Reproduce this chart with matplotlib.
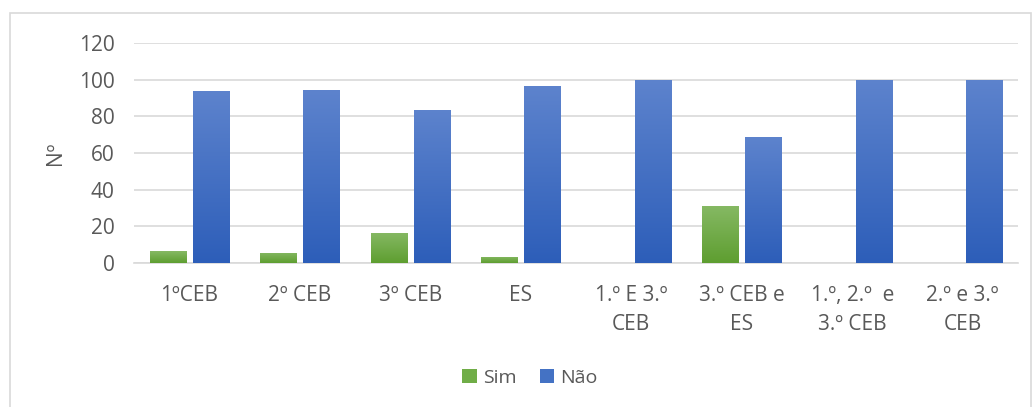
import numpy as np
import matplotlib.pyplot as plt
from matplotlib.colors import LinearSegmentedColormap
from matplotlib.patches import Rectangle

categories = ['1ºCEB', '2º CEB', '3º CEB', 'ES', '1.º E 3.º\nCEB',
              '3.º CEB e\nES', '1.º, 2.º  e\n3.º CEB', '2.º e 3.º\nCEB']
sim = [6.3, 5.6, 16.4, 3.4, 0, 31.3, 0, 0]
nao = [93.7, 94.4, 83.6, 96.6, 100, 68.7, 100, 100]
yticks = [0, 20, 40, 60, 80, 100, 120]

plt.rcParams['font.family'] = ['Open Sans', 'DejaVu Sans']
grey_txt = '#595959'

fig = plt.figure(figsize=(10.35, 4.07), dpi=100)
ax = fig.add_axes([134 / 1035, 0.354, 884 / 1035, 0.540])

x = np.arange(len(categories))
w = 0.326
gap = 0.032
b1 = ax.bar(x - w / 2 - gap, sim, w, color='#70AD47', label='Sim', zorder=3)
b2 = ax.bar(x + w / 2 + gap, nao, w, color='#4472C4', label='Não', zorder=3)

# vertical gradient on each bar
cm_g = LinearSegmentedColormap.from_list('g', ['#5E9E30', '#86B964'])
cm_b = LinearSegmentedColormap.from_list('b', ['#2D5EB9', '#5D83CD'])
grad = np.linspace(0, 1, 256).reshape(-1, 1)
for bars, cm in [(b1, cm_g), (b2, cm_b)]:
    for p in bars:
        h = p.get_height()
        if h <= 0:
            continue
        x0 = p.get_x()
        im = ax.imshow(grad, cmap=cm, origin='lower', aspect='auto',
                       extent=[x0, x0 + p.get_width(), 0, h], zorder=4)
        im.set_clip_path(p)

ax.set_xlim(-0.5, len(categories) - 0.5)
ax.set_ylim(0, 120)
ax.set_yticks(yticks)
ax.set_xticks(x)
ax.set_xticklabels(categories, multialignment='center', linespacing=1.5)
ax.tick_params(length=0, labelsize=15, colors=grey_txt)
ax.tick_params(axis='x', pad=16)
ax.tick_params(axis='y', pad=14)
ax.yaxis.grid(True, color='#D9D9D9', linewidth=1.2, zorder=0)
for s in ['top', 'right', 'left']:
    ax.spines[s].set_visible(False)
ax.spines['bottom'].set_color('#D9D9D9')
ax.spines['bottom'].set_linewidth(1.2)
ax.set_ylabel('Nº', fontsize=15, color=grey_txt, labelpad=9)

leg = fig.legend(handles=[b1, b2], loc='center', bbox_to_anchor=(0.512, 0.072),
                 ncol=2, frameon=False, fontsize=14, handlelength=0.75,
                 handleheight=0.75, handletextpad=0.3, columnspacing=1.2)
for t in leg.get_texts():
    t.set_color(grey_txt)

fig.patches.append(Rectangle((10 / 1035, -0.05), 1021 / 1035, 1.05 - 13 / 407,
                             transform=fig.transFigure, fill=False,
                             edgecolor='#D9D9D9', linewidth=1.2))

fig.savefig('out.png', dpi=100)
